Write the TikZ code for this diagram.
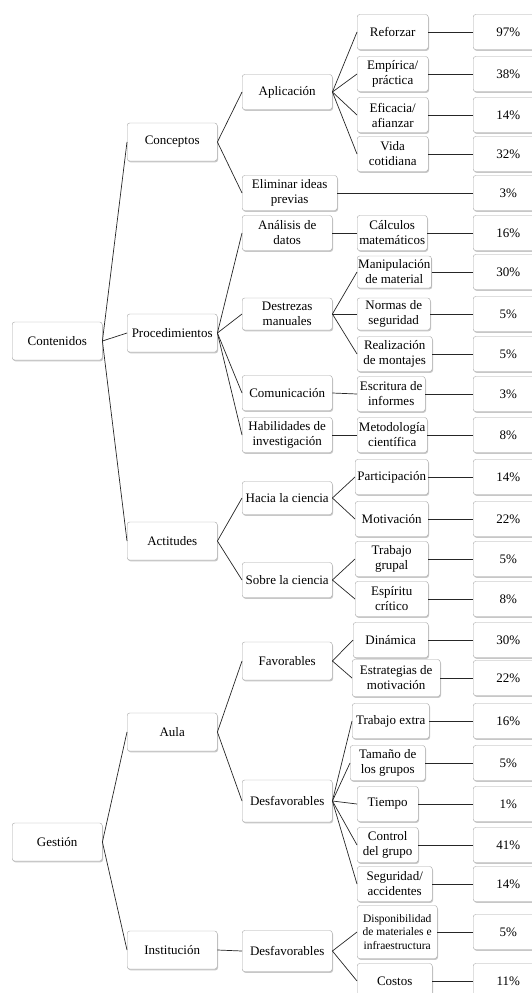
\documentclass[tikz,border=0pt]{standalone}
\usepackage{fontspec}
\setmainfont{Liberation Serif}
\usetikzlibrary{shadows}

\tikzset{
  box/.style={draw=black!35, fill=white, rounded corners=2.5pt, align=center,
    anchor=west, inner sep=1pt, minimum height=35pt,
    font=\fontsize{13}{15}\selectfont,
    drop shadow={shadow xshift=0.8pt, shadow yshift=-1.3pt, fill=black, opacity=0.22}},
  lvl/.style={box, minimum width=90pt, minimum height=38pt},
  pct/.style={box, minimum width=70pt},
  link/.style={draw=black!85, line width=0.7pt}
}

\begin{document}
\begin{tikzpicture}[x=1pt,y=-1pt]
    \useasboundingbox (0,0) rectangle (532,993);

    % First level
    \node[lvl] (cont) at (12,341) {Contenidos};
    \node[lvl] (gest) at (12,842) {Gestión};

    % Second level
    \node[lvl] (conc) at (127,142) {Conceptos};
    \node[lvl] (proc) at (127,333) {Procedimientos};
    \node[lvl] (acti) at (127,541) {Actitudes};
    \node[lvl] (aula) at (127,732) {Aula};
    \node[lvl] (inst) at (127,950) {Institución};

    \draw[link] (cont.east) -- (conc.west);
    \draw[link] (cont.east) -- (proc.west);
    \draw[link] (cont.east) -- (acti.west);
    \draw[link] (gest.east) -- (aula.west);
    \draw[link] (gest.east) -- (inst.west);

    % Third level
    \node[lvl, minimum height=35pt] (apli) at (242,92) {Aplicación};
    \node[lvl, minimum height=35pt, minimum width=95pt] (elim) at (242,193) {Eliminar ideas\\previas};
    \node[lvl, minimum height=35pt] (anal) at (242,233) {Análisis de\\datos};
    \node[lvl, minimum height=32pt] (dest) at (242,314) {Destrezas\\manuales};
    \node[lvl, minimum height=35pt] (comu) at (242,393) {Comunicación};
    \node[lvl, minimum height=35pt] (habi) at (242,435) {Habilidades de\\investigación};
    \node[lvl, minimum height=33pt] (haci) at (242,498) {Hacia la ciencia};
    \node[lvl, minimum height=35pt] (sobr) at (242,580) {Sobre la ciencia};
    \node[lvl] (favo) at (242,661) {Favorables};
    \node[lvl, minimum height=42pt] (desa) at (242,801) {Desfavorables};
    \node[lvl, minimum height=41pt] (desi) at (242,951) {Desfavorables};

    \draw[link] (conc.east) -- (apli.west);
    \draw[link] (conc.east) -- (elim.west);
    \draw[link] (proc.east) -- (anal.west);
    \draw[link] (proc.east) -- (dest.west);
    \draw[link] (proc.east) -- (comu.west);
    \draw[link] (proc.east) -- (habi.west);
    \draw[link] (acti.east) -- (haci.west);
    \draw[link] (acti.east) -- (sobr.west);
    \draw[link] (aula.east) -- (favo.west);
    \draw[link] (aula.east) -- (desa.west);
    \draw[link] (inst.east) -- (desi.west);

    % Fourth level: Conceptos
    \node[box, minimum width=71pt] (refo) at (357,32) {Reforzar};
    \node[box, minimum width=71pt] (empi) at (357,74) {Empírica/\\práctica};
    \node[box, minimum width=71pt] (efic) at (357,115) {Eficacia/\\afianzar};
    \node[box, minimum width=71pt] (vida) at (357,154) {Vida\\cotidiana};

    \draw[link] (apli.east) -- (refo.west);
    \draw[link] (apli.east) -- (empi.west);
    \draw[link] (apli.east) -- (efic.west);
    \draw[link] (apli.east) -- (vida.west);

    % Fourth level: Procedimientos
    \node[box, minimum width=70pt] (calc) at (357,233) {Cálculos\\matemáticos};
    \node[box, minimum width=73pt, minimum height=32pt] (mani) at (357,272) {Manipulación\\de material};
    \node[box, minimum width=73pt, minimum height=32pt] (norm) at (357,314) {Normas de\\seguridad};
    \node[box, minimum width=75pt] (real) at (357,354) {Realización\\de montajes};
    \node[box, minimum width=68pt] (escr) at (357,394) {Escritura de\\informes};
    \node[box, minimum width=70pt] (meto) at (357,435) {Metodología\\científica};

    \draw[link] (anal.east) -- (calc.west);
    \draw[link] (dest.east) -- (mani.west);
    \draw[link] (dest.east) -- (norm.west);
    \draw[link] (dest.east) -- (real.west);
    \draw[link] (comu.east) -- (escr.west);
    \draw[link] (habi.east) -- (meto.west);

    % Fourth level: Actitudes
    \node[box, minimum width=73pt] (part) at (355,477) {Participación};
    \node[box, minimum width=73pt] (moti) at (355,519) {Motivación};
    \node[box, minimum width=73pt] (trab) at (355,559) {Trabajo\\grupal};
    \node[box, minimum width=73pt] (espi) at (355,599) {Espíritu\\crítico};

    \draw[link] (haci.east) -- (part.west);
    \draw[link] (haci.east) -- (moti.west);
    \draw[link] (sobr.east) -- (trab.west);
    \draw[link] (sobr.east) -- (espi.west);

    % Fourth level: Gestión
    \node[box, minimum width=75pt] (dina) at (353,640) {Dinámica};
    \node[box, minimum width=88pt, minimum height=37pt] (estr) at (352,678) {Estrategias de\\motivación};
    \node[box, minimum width=77pt] (extr) at (352,721) {Trabajo extra};
    \node[box, minimum width=75pt] (tama) at (350,763) {Tamaño de\\los grupos};
    \node[box, minimum width=61pt] (tiem) at (357,804) {Tiempo};
    \node[box, minimum width=61pt] (ctrl) at (357,845) {Control\\del grupo};
    \node[box, minimum width=75pt] (segu) at (357,884) {Seguridad/\\accidentes};
    \node[box, minimum width=80pt, minimum height=53pt,
          font=\fontsize{11.5}{13.5}\selectfont] (disp) at (357,932)
          {Disponibilidad\\de materiales e\\infraestructura};
    \node[box, minimum width=75pt] (cost) at (357,981) {Costos};

    \draw[link] (favo.east) -- (dina.west);
    \draw[link] (favo.east) -- (estr.west);
    \draw[link] (desa.east) -- (extr.west);
    \draw[link] (desa.east) -- (tama.west);
    \draw[link] (desa.east) -- (tiem.west);
    \draw[link] (desa.east) -- (ctrl.west);
    \draw[link] (desa.east) -- (segu.west);
    \draw[link] (desi.east) -- (disp.west);
    \draw[link] (desi.east) -- (cost.west);

    % Percentages
    \node[pct] (p1) at (473,32) {97\%};
    \node[pct] (p2) at (473,74) {38\%};
    \node[pct] (p3) at (473,115) {14\%};
    \node[pct] (p4) at (473,154) {32\%};
    \node[pct] (p5) at (473,193) {3\%};
    \node[pct] (p6) at (473,233) {16\%};
    \node[pct] (p7) at (473,272) {30\%};
    \node[pct] (p8) at (473,314) {5\%};
    \node[pct] (p9) at (473,354) {5\%};
    \node[pct] (p10) at (473,394) {3\%};
    \node[pct] (p11) at (473,435) {8\%};
    \node[pct] (p12) at (473,477) {14\%};
    \node[pct] (p13) at (473,519) {22\%};
    \node[pct] (p14) at (473,559) {5\%};
    \node[pct] (p15) at (473,599) {8\%};
    \node[pct] (p16) at (473,640) {30\%};
    \node[pct] (p17) at (473,678) {22\%};
    \node[pct] (p18) at (473,721) {16\%};
    \node[pct] (p19) at (473,763) {5\%};
    \node[pct] (p20) at (473,804) {1\%};
    \node[pct] (p21) at (473,845) {41\%};
    \node[pct] (p22) at (473,884) {14\%};
    \node[pct] (p23) at (473,932) {5\%};
    \node[pct] (p24) at (473,981) {11\%};

    \draw[link] (refo.east) -- (p1.west);
    \draw[link] (empi.east) -- (p2.west);
    \draw[link] (efic.east) -- (p3.west);
    \draw[link] (vida.east) -- (p4.west);
    \draw[link] (elim.east) -- (p5.west);
    \draw[link] (calc.east) -- (p6.west);
    \draw[link] (mani.east) -- (p7.west);
    \draw[link] (norm.east) -- (p8.west);
    \draw[link] (real.east) -- (p9.west);
    \draw[link] (escr.east) -- (p10.west);
    \draw[link] (meto.east) -- (p11.west);
    \draw[link] (part.east) -- (p12.west);
    \draw[link] (moti.east) -- (p13.west);
    \draw[link] (trab.east) -- (p14.west);
    \draw[link] (espi.east) -- (p15.west);
    \draw[link] (dina.east) -- (p16.west);
    \draw[link] (estr.east) -- (p17.west);
    \draw[link] (extr.east) -- (p18.west);
    \draw[link] (tama.east) -- (p19.west);
    \draw[link] (tiem.east) -- (p20.west);
    \draw[link] (ctrl.east) -- (p21.west);
    \draw[link] (segu.east) -- (p22.west);
    \draw[link] (disp.east) -- (p23.west);
    \draw[link] (cost.east) -- (p24.west);

\end{tikzpicture}
\end{document}
